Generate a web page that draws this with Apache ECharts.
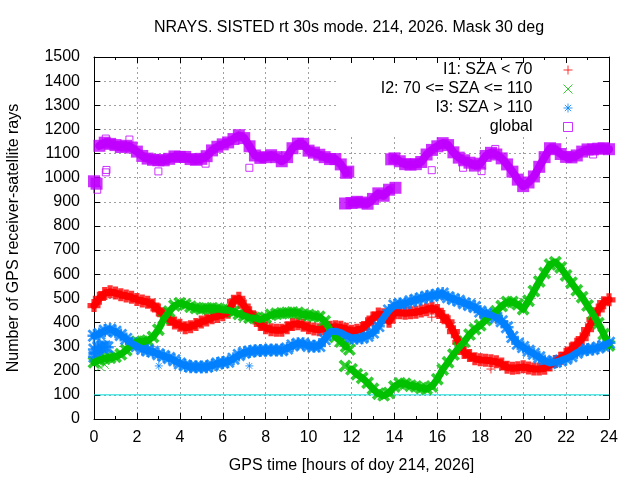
<!DOCTYPE html>
<html>
<head>
<meta charset="utf-8">
<script src="https://cdn.jsdelivr.net/npm/echarts@6/dist/echarts.min.js"></script>
<style>
html, body { margin: 0; padding: 0; background: #fff; }
#chart { width: 640px; height: 480px; }
</style>
</head>
<body>
<div id="chart"></div>
<script>
var dom = document.getElementById("chart");
var myChart = echarts.init(dom);

// sample times (hours of day), one row per hour
var hours = [
  0, 0.25, 0.5, 0.75,   1, 1.25, 1.5, 1.75,   2, 2.25, 2.5, 2.75,
  3, 3.25, 3.5, 3.75,   4, 4.25, 4.5, 4.75,   5, 5.25, 5.5, 5.75,
  6, 6.25, 6.5, 6.75,   7, 7.25, 7.5, 7.75,   8, 8.25, 8.5, 8.75,
  9, 9.25, 9.5, 9.75,   10, 10.25, 10.5, 10.75,   11, 11.25, 11.5, 11.75,
  12, 12.25, 12.5, 12.75,   13, 13.25, 13.5, 13.75,   14, 14.25, 14.5, 14.75,
  15, 15.25, 15.5, 15.75,   16, 16.25, 16.5, 16.75,   17, 17.25, 17.5, 17.75,
  18, 18.25, 18.5, 18.75,   19, 19.25, 19.5, 19.75,   20, 20.25, 20.5, 20.75,
  21, 21.25, 21.5, 21.75,   22, 22.25, 22.5, 22.75,   23, 23.25, 23.5, 23.75,
  24
];

// I1: SZA < 70
var i1 = [
  470, 500, 520, 527,   522, 515, 510, 504,   495, 489, 484, 472,
  452, 432, 413, 398,   388, 378, 382, 392,   402, 410, 420, 425,
  432, 442, 488, 500,   468, 440, 418, 392,   378, 370, 368, 368,
  378, 392, 395, 388,   378, 373, 370, 375,   380, 382, 380, 372,
  364, 368, 375, 395,   418, 435, 432, 405,   440, 440, 438, 440,
  442, 448, 453, 460,   450, 425, 403, 362,   318, 276, 263, 250,
  245, 243, 241, 237,   228, 214, 210, 212,   216, 211, 207, 207,
  210, 224, 238, 252,   268, 290, 310, 333,   370, 412, 452, 482,
  494
];

// I2: 70 <= SZA <= 110
var i2 = [
  235, 245, 250, 254,   258, 268, 285, 308,   320, 320, 325, 340,
  370, 415, 445, 470,   480, 474, 465, 460,   456, 458, 459, 457,
  452, 451, 444, 435,   428, 420, 418, 412,   420, 432, 436, 438,
  440, 441, 440, 433,   431, 426, 424, 405,   370, 340, 321, 300,
  206, 185, 170, 150,   125, 105, 98, 108,   135, 148, 146, 138,
  135, 128, 125, 135,   165, 205, 235, 267,   296, 320, 350, 372,
  388, 410, 430, 446,   468, 485, 485, 475,   455, 490, 530, 570,
  605, 640, 650, 628,   595, 565, 533, 505,   470, 435, 397, 352,
  305
];

// I3: SZA > 110
var i3 = [
  345, 352, 366, 371,   362, 348, 332, 314,   302, 290, 284, 279,
  268, 261, 253, 243,   230, 222, 217, 216,   215, 216, 222, 230,
  234, 237, 250, 265,   275, 280, 283, 284,   285, 286, 286, 285,
  292, 305, 312, 312,   303, 301, 303, 330,   362, 364, 358, 346,
  337, 335, 337, 345,   358, 385, 420, 450,   470, 477, 478, 488,
  494, 500, 507, 511,   515, 520, 505, 497,   490, 480, 472, 464,
  445, 436, 431, 420,   405, 380, 340, 312,   298, 283, 270, 256,
  240, 232, 236, 242,   250, 260, 275, 285,   288, 290, 296, 304,
  316
];

// global
var glob = [
  985, 1132, 1145, 1140,   1135, 1127, 1132, 1125,   1108, 1090, 1079, 1074,
  1072, 1072, 1078, 1088,   1086, 1086, 1077, 1074,   1078, 1089, 1113, 1128,
  1138, 1146, 1160, 1176,   1164, 1130, 1092, 1082,   1085, 1093, 1085, 1068,
  1085, 1122, 1141, 1140,   1112, 1104, 1095, 1085,   1077, 1077, 1055, 1020,
  895, 900, 897, 892,   912, 935, 925, 950,   1080, 1068, 1056, 1054,
  1056, 1065, 1096, 1115,   1130, 1143, 1135, 1105,   1083, 1072, 1062, 1050,
  1058, 1090, 1103, 1096,   1080, 1055, 1025, 992,   965, 980, 1005, 1045,
  1085, 1122, 1118, 1098,   1086, 1084, 1092, 1108,   1117, 1117, 1120, 1122,
  1118
];

// hours after which a series jumps (no trace drawn across)
var i1Gaps = [];
var i2Gaps = [11.75];
var i3Gaps = [];
var globGaps = [0, 11.75, 13.75];

// extra samples off the regular time grid [hour, value]
var i2Extra = [[11.7, 220], [11.9, 288]];
var i3Extra = [[0.02, 258], [0.02, 288], [0.15, 272], [0.2, 296], [0.35, 298], [0.5, 300], [0.62, 297]];
var globExtra = [[0.12, 975], [11.7, 893], [11.85, 1025], [13.85, 1076], [14.05, 958]];

// isolated points
var i1Out = [[15.74, 422], [18.5, 207]];
var i2Out = [[0.3, 215], [0.5, 225]];
var i3Out = [[3.02, 220], [7.24, 220]];
var globOut = [[0.15, 950], [0.55, 1022], [0.58, 1032], [0.55, 1162], [1.65, 1158], [3.0, 1026],
  [5.2, 1058], [7.24, 1041], [15.74, 1031], [17.2, 1041], [18.06, 1027], [18.7, 1119], [23.26, 1096]];

// horizontal reference level and the time span it covers
var refLevel = 100;
var refSpan = [0, 24];

var names = ['I1: SZA < 70', 'I2: 70 <= SZA <= 110', 'I3: SZA > 110', 'global'];
var colors = ['#ff0000', '#00c000', '#0080ff', '#c000ff'];
var titleText = 'NRAYS. SISTED rt 30s mode. 214, 2026. Mask 30 deg';

function pairs(xs, ys) {
  return xs.map(function (x, k) { return [x, ys[k]]; });
}
function broken(xs, ys, gaps) {
  var out = [];
  xs.forEach(function (x, k) {
    out.push([x, ys[k]]);
    if (gaps.indexOf(x) >= 0) out.push([x, '-']);
  });
  return out;
}

var font = 'Liberation Sans';
var plusFat = 'path://M3,0H7V3H10V7H7V10H3V7H0V3H3Z';
var crossFat = 'path://M2,0L5,3L8,0L10,2L7,5L10,8L8,10L5,7L2,10L0,8L3,5L0,2Z';
var starFat = 'path://M4,0H6V4H10V6H6V10H4V6H0V4H4Z M1.5,0L10,8.5L8.5,10L0,1.5Z M8.5,0L10,1.5L1.5,10L0,8.5Z';
var plusThin = 'path://M5,0V10M0,5H10';
var crossThin = 'path://M0,0L10,10M10,0L0,10';
var starThin = 'path://M5,0V10M0,5H10M1.5,1.5L8.5,8.5M8.5,1.5L1.5,8.5';
var squareThin = 'path://M0,0H10V10H0Z';
var thinIcons = [plusThin, crossThin, starThin, squareThin];

function xAx(pos) {
  return {
    type: 'value', min: 0, max: 24, interval: 2, position: pos,
    axisLine: { show: true, onZero: false, lineStyle: { color: '#000', width: 1 } },
    axisTick: { show: true, inside: true, length: 6, lineStyle: { color: '#000' } },
    minorTick: { show: true, splitNumber: 2, length: 3, lineStyle: { color: '#000' } },
    axisLabel: { show: pos === 'bottom', color: '#000', fontFamily: font, fontSize: 16, margin: 11 },
    splitLine: { show: pos === 'bottom', lineStyle: { color: '#a0a0a0', type: [2, 3], width: 1 } }
  };
}
function yAx(pos) {
  return {
    type: 'value', min: 0, max: 1500, interval: 100, position: pos,
    axisLine: { show: true, onZero: false, lineStyle: { color: '#000', width: 1 } },
    axisTick: { show: true, inside: true, length: 6, lineStyle: { color: '#000' } },
    axisLabel: { show: pos === 'left', color: '#000', fontFamily: font, fontSize: 16, margin: 14,
      formatter: function (v) { return String(v); } },
    splitLine: { show: pos === 'left', lineStyle: { color: '#a0a0a0', type: [2, 3], width: 1 } }
  };
}

var xAxes = [xAx('bottom'), xAx('top')];
xAxes[0].name = 'GPS time [hours of doy 214, 2026]';
xAxes[0].nameLocation = 'middle';
xAxes[0].nameGap = 39;
xAxes[0].nameTextStyle = { color: '#000', fontFamily: font, fontSize: 16 };
var yAxes = [yAx('left'), yAx('right')];
yAxes[0].name = 'Number of GPS receiver-satellite rays';
yAxes[0].nameLocation = 'middle';
yAxes[0].nameGap = 72;
yAxes[0].nameTextStyle = { color: '#000', fontFamily: font, fontSize: 16 };

var legends = names.map(function (n, k) {
  return {
    right: 67, top: 62 + k * 19, padding: 0, align: 'right', selectedMode: false,
    itemWidth: 9, itemHeight: 9,
    textStyle: { color: '#000', fontFamily: font, fontSize: 16, lineHeight: 16, padding: [0, 26, 0, 0] },
    data: [{ name: n, icon: thinIcons[k],
      itemStyle: { color: 'transparent', borderColor: colors[k], borderWidth: 1 } }]
  };
});

// dense trace: a thick core line under the point markers
function trace(name, data, color, width) {
  return { type: 'line', name: name + ' trace', data: data, symbol: 'none', connectNulls: false,
    silent: true, animation: false,
    lineStyle: { color: color, width: width, cap: 'round', join: 'round' } };
}
function band(name, data, symbol, size, color) {
  return { type: 'scatter', name: name, data: data, symbol: symbol, symbolSize: size,
    itemStyle: { color: color }, animation: false, silent: true };
}
function outliers(name, data, symbol, size, color) {
  return { type: 'scatter', name: name, data: data, symbol: symbol, symbolSize: size,
    itemStyle: { color: 'transparent', borderColor: color, borderWidth: 1 }, animation: false, silent: true };
}

option = {
  backgroundColor: '#fff',
  animation: false,
  grid: { left: 94, right: 31, top: 57, bottom: 61, containLabel: false, outerBoundsMode: 'none' },
  graphic: [
    { type: 'rect', z: 1, silent: true, shape: { x: 336, y: 63, width: 266, height: 73 }, style: { fill: '#fff' } },
    { type: 'text', x: 349, y: 28, silent: true,
      style: { text: titleText, fill: '#000', font: '16px "Liberation Sans"',
        textAlign: 'center', align: 'center', textVerticalAlign: 'middle', verticalAlign: 'middle' } }
  ],
  legend: legends,
  xAxis: xAxes,
  yAxis: yAxes,
  series: [
    { type: 'line', name: 'ref', data: [[refSpan[0], refLevel], [refSpan[1], refLevel]],
      symbol: 'none', silent: true, animation: false, z: 1,
      lineStyle: { color: '#00dddd', width: 1, type: 'solid' } },
    trace(names[0], broken(hours, i1, i1Gaps), colors[0], 7),
    band(names[0], pairs(hours, i1), plusFat, 13, colors[0]),
    outliers('i1 out', i1Out, plusThin, 9, colors[0]),
    trace(names[1], broken(hours, i2, i2Gaps), colors[1], 7),
    band(names[1], pairs(hours, i2).concat(i2Extra), crossFat, 13, colors[1]),
    outliers('i2 out', i2Out, crossThin, 8, colors[1]),
    trace(names[2], broken(hours, i3, i3Gaps), colors[2], 7),
    band(names[2], pairs(hours, i3).concat(i3Extra), starFat, 13, colors[2]),
    outliers('i3 out', i3Out, starThin, 8, colors[2]),
    trace(names[3], broken(hours, glob, globGaps), colors[3], 8),
    band(names[3], pairs(hours, glob).concat(globExtra), 'rect', 12, colors[3]),
    outliers('glob out', globOut, squareThin, 7, colors[3])
  ]
};

if (option && typeof option === "object") {
  myChart.setOption(option, true);
}
</script>
</body>
</html>
